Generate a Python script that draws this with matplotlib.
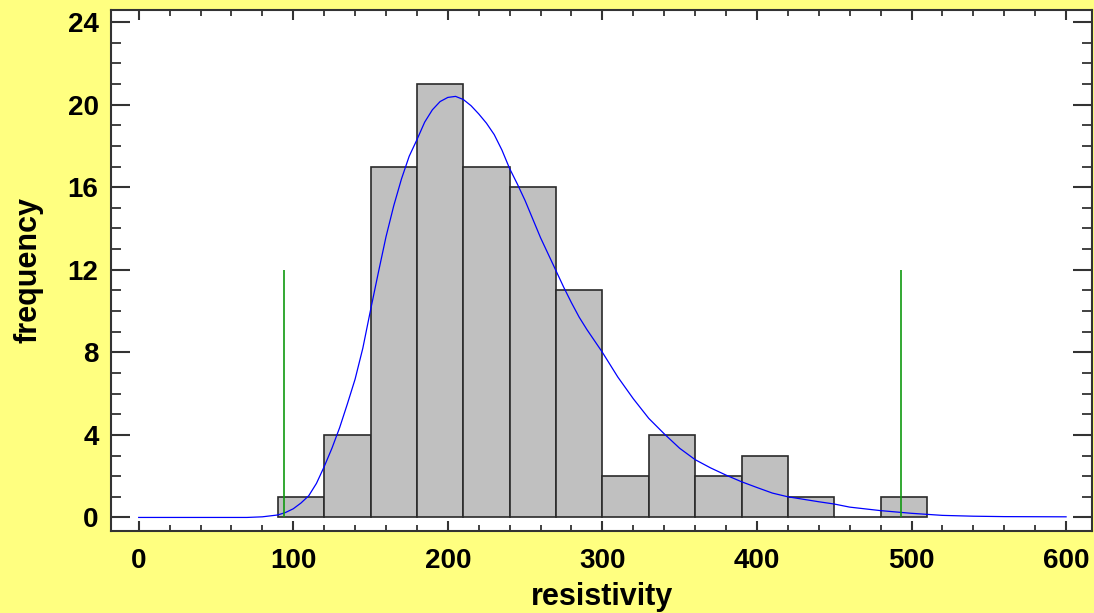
import numpy as np
import matplotlib
matplotlib.use('Agg')
import matplotlib.pyplot as plt
from matplotlib.ticker import MultipleLocator

# histogram bins (width 30) and counts
bin_edges = [90, 120, 150, 180, 210, 240, 270, 300, 330, 360, 390, 420, 450, 480, 510]
counts = [1, 4, 17, 21, 17, 16, 11, 2, 4, 2, 3, 1, 0, 1]

# fitted density curve
curve_x = [0, 70, 80, 90, 95, 100, 105, 110, 115, 120, 125, 130, 135, 140, 145, 150,
           155, 160, 165, 170, 175, 180, 185, 190, 195, 200, 205, 210, 215, 220, 225,
           230, 235, 240, 245, 250, 255, 260, 265, 270, 275, 280, 285, 290, 295, 300,
           310, 320, 330, 340, 350, 360, 370, 380, 390, 400, 410, 420, 430, 440, 450,
           460, 480, 500, 520, 540, 560, 600]
curve_y = [0.0, 0.0, 0.03, 0.12, 0.24, 0.42, 0.7, 1.05, 1.65, 2.46, 3.35, 4.35, 5.5,
           6.7, 8.2, 10.05, 11.85, 13.6, 15.1, 16.4, 17.5, 18.3, 19.15, 19.75, 20.15,
           20.35, 20.4, 20.25, 19.95, 19.55, 19.1, 18.55, 17.8, 16.9, 16.15, 15.35,
           14.45, 13.55, 12.75, 11.95, 11.15, 10.4, 9.7, 9.1, 8.55, 8.0, 6.8, 5.75, 4.8,
           4.05, 3.35, 2.8, 2.4, 2.05, 1.73, 1.45, 1.18, 1.0, 0.88, 0.76, 0.65, 0.5,
           0.33, 0.2, 0.1, 0.06, 0.04, 0.03]

# green marker lines
limit_x = [94, 493.5]
limit_height = 12

plt.rcParams['font.family'] = ['Liberation Sans', 'DejaVu Sans']

fig = plt.figure(figsize=(10.94, 6.13), dpi=100, facecolor='#FFFF80')
ax = fig.add_axes([0.1015, 0.134, 0.897, 0.8495])
ax.set_facecolor('white')

lefts = bin_edges[:-1]
widths = np.diff(bin_edges)
ax.bar(lefts, counts, width=widths, align='edge', color='#C0C0C0',
       edgecolor='#2a2a2a', linewidth=1.2, zorder=2)
ax.plot(curve_x, curve_y, color='#0000FF', linewidth=0.9, zorder=3)
ax.vlines(limit_x, 0, limit_height, color='#119911', linewidth=1.2, zorder=4)

ax.set_xlim(-17.9, 617)
ax.set_ylim(-0.65, 24.58)
ax.xaxis.set_major_locator(MultipleLocator(100))
ax.xaxis.set_minor_locator(MultipleLocator(20))
ax.yaxis.set_major_locator(MultipleLocator(4))
ax.yaxis.set_minor_locator(MultipleLocator(1))

ax.tick_params(which='both', direction='in', top=True, right=True, color='#333333')
ax.tick_params(axis='x', which='major', length=7, width=1.5, pad=12, labelsize=20)
ax.tick_params(axis='x', which='minor', length=4, width=1.3)
ax.tick_params(axis='y', which='major', length=13.5, width=1.5, pad=9, labelsize=20)
ax.tick_params(axis='y', which='minor', length=7, width=1.3)
for lab in ax.get_xticklabels() + ax.get_yticklabels():
    lab.set_fontweight('bold')

for sp in ax.spines.values():
    sp.set_color('#333333')
    sp.set_linewidth(1.5)

ax.set_xlabel('resistivity', fontsize=22, fontweight='bold', labelpad=6)
ax.set_ylabel('frequency', fontsize=22, fontweight='bold', labelpad=17)

fig.savefig('out.png', dpi=100, facecolor=fig.get_facecolor())
